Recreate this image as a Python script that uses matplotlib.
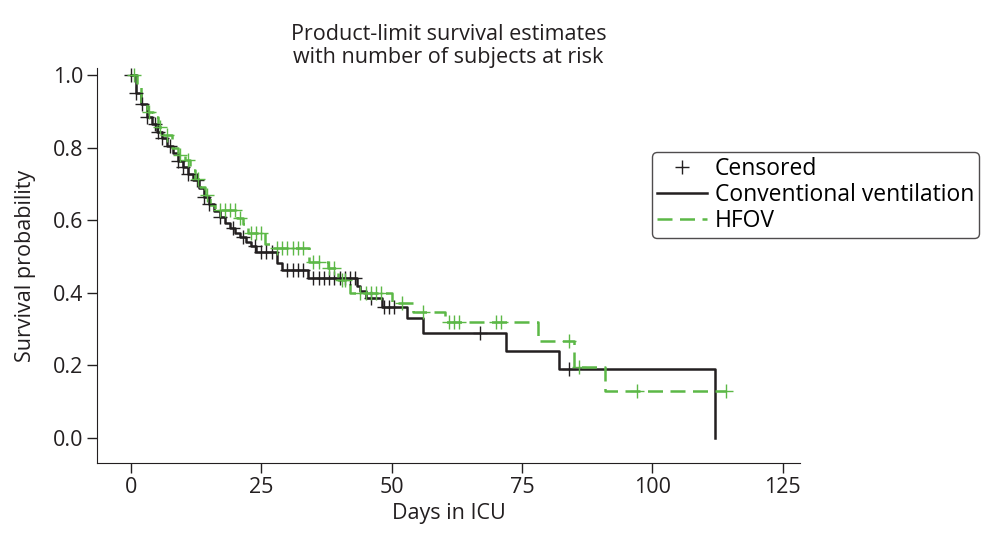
import numpy as np
import matplotlib.pyplot as plt
from matplotlib.lines import Line2D

plt.rcParams['font.family'] = ['Open Sans', 'DejaVu Sans']

# --- Conventional ventilation (black) : step times and survival after each step ---
t_conv = [0, 1, 2, 3, 4, 5, 6, 7, 8, 9, 10, 11, 12, 13, 14, 15, 16, 17, 18, 19, 20,
          21, 22, 23, 24, 28, 29, 34, 43.3, 44, 45, 48.2, 53, 56, 72, 82, 112]
s_conv = [1.0, 0.95, 0.92, 0.885, 0.865, 0.845, 0.826, 0.805, 0.785, 0.765, 0.747,
          0.728, 0.71, 0.689, 0.665, 0.645, 0.625, 0.608, 0.592, 0.578, 0.565,
          0.553, 0.541, 0.528, 0.513, 0.483, 0.463, 0.44, 0.42, 0.405, 0.385,
          0.362, 0.33, 0.29, 0.24, 0.19, 0.0]
cens_conv = [0, 1, 2.2, 3, 4.6, 5.2, 6, 7.5, 9, 10, 11, 12.6, 14, 15, 17, 19.6, 21.5,
             23.8, 25, 26, 27, 30, 31, 32, 33, 35, 36, 37, 38, 39, 40, 41, 42, 43,
             46, 48.5, 49.5, 50.5, 67, 84]

# --- HFOV (green) ---
t_hfov = [0, 1.1, 2, 3, 4.2, 5.2, 6.2, 7.8, 9.1, 10.4, 11.3, 12.3, 13.2, 14.2, 15.1,
          16.1, 20.3, 21.5, 22.5, 25.7, 27, 34.2, 37.8, 39.7, 42, 50, 54, 60.2, 78,
          85, 91, 114.2]
s_hfov = [1.0, 0.968, 0.923, 0.9, 0.885, 0.858, 0.835, 0.80, 0.78, 0.766, 0.738,
          0.715, 0.692, 0.669, 0.642, 0.628, 0.607, 0.59, 0.565, 0.535, 0.523,
          0.486, 0.468, 0.435, 0.40, 0.371, 0.348, 0.32, 0.267, 0.196, 0.13, 0.13]
cens_hfov = [0.5, 3.5, 5.5, 7, 9.5, 11, 12.8, 14.5, 17, 18, 19, 20, 21, 23, 24, 25,
             28, 29, 30, 31, 32, 33, 35, 36, 38, 39, 40.5, 41, 44, 45, 46, 47, 48,
             52, 56, 61, 62, 63, 70, 71, 84, 86, 97, 114.2]

black = '#231f20'
green = '#5cb847'

fig = plt.figure(figsize=(9.87, 5.36), dpi=100)
ax = fig.add_axes([0.0983, 0.1362, 0.7122, 0.7368])


def at(times, surv, c):
    i = np.searchsorted(times, c, side='right') - 1
    return np.array(surv)[i]


ax.step(t_conv, s_conv, where='post', color=black, lw=1.8)
ax.step(t_hfov, s_hfov, where='post', color=green, lw=1.8, dashes=(6, 3))
ax.plot(cens_conv, at(t_conv, s_conv, cens_conv), '+', color=black, ms=10, mew=1.0)
ax.plot(cens_hfov, at(t_hfov, s_hfov, cens_hfov), '+', color=green, ms=10, mew=1.0)

ax.set_xlim(-6.5, 128.3)
ax.set_ylim(-0.069, 1.02)
ax.set_xticks([0, 25, 50, 75, 100, 125])
ax.set_yticks([0.0, 0.2, 0.4, 0.6, 0.8, 1.0])
ax.set_yticklabels(['0.0', '0.2', '0.4', '0.6', '0.8', '1.0'])
ax.tick_params(labelsize=15.5, length=7, width=1, color=black, labelcolor=black, pad=3)
for side in ['top', 'right']:
    ax.spines[side].set_visible(False)
for side in ['left', 'bottom']:
    ax.spines[side].set_color(black)

ax.set_xlabel('Days in ICU', fontsize=15.5, color=black, labelpad=4)
ax.set_ylabel('Survival probability', fontsize=15.5, color=black, labelpad=12)
ax.set_title('Product-limit survival estimates\nwith number of subjects at risk',
             fontsize=15.5, color=black, pad=0, linespacing=1.1)

handles = [Line2D([], [], ls='none', marker='+', color=black, ms=10, mew=1.0),
           Line2D([], [], color=black, lw=1.8),
           Line2D([], [], color=green, lw=1.8, dashes=(6, 3))]
labels = ['Censored', 'Conventional ventilation', 'HFOV']
leg = fig.legend(handles, labels, loc='upper left', bbox_to_anchor=(0.6606, 0.716),
                 fontsize=16.5, frameon=True, fancybox=True, handlelength=2.2,
                 borderpad=0.2, labelspacing=0.1, handletextpad=0.35,
                 borderaxespad=0)
leg.get_frame().set_edgecolor(black)
leg.get_frame().set_linewidth(1.0)

fig.savefig('out.png', dpi=100)
